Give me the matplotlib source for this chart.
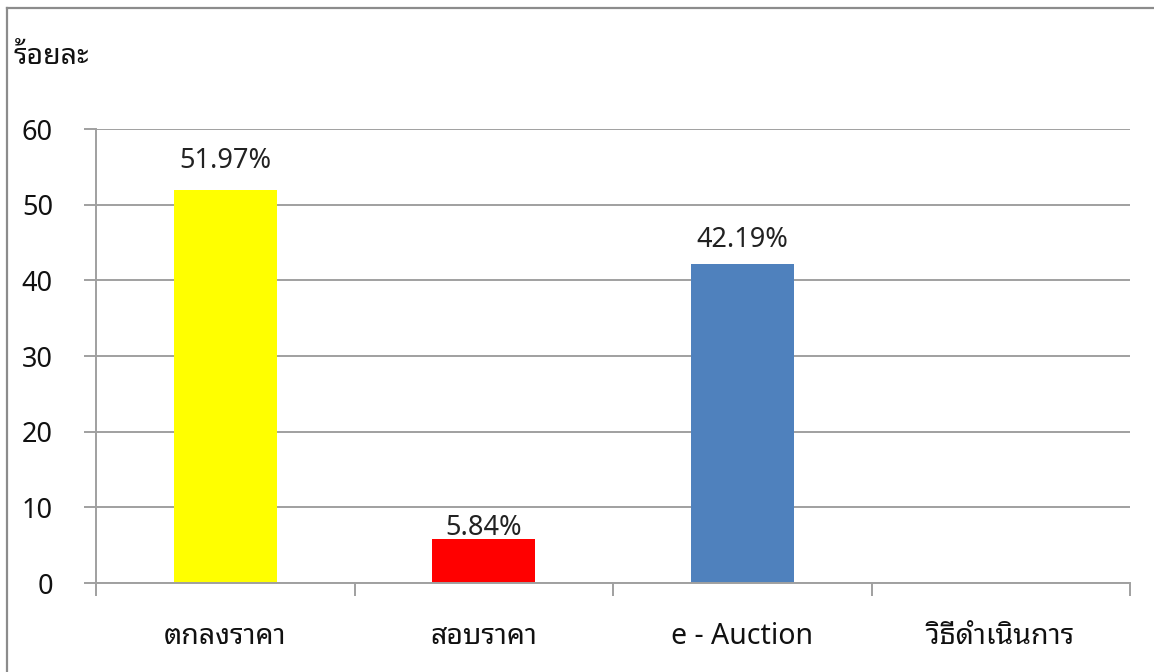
import numpy as np
import matplotlib
matplotlib.use("Agg")
import matplotlib.pyplot as plt
from matplotlib.lines import Line2D

plt.rcParams["font.family"] = ["Noto Sans Thai Looped", "Noto Sans", "DejaVu Sans"]

categories = ["ตกลงราคา", "สอบราคา", "e - Auction", "วิธีดำเนินการ"]
percent = [51.97, 5.84, 42.19, np.nan]
bar_colors = ["#ffff00", "#ff0000", "#4f81bd", "#ffffff"]
label_offset_pt = [21, 8, 17, 0]
y_ticks = [0, 10, 20, 30, 40, 50, 60]
y_title = "ร้อยละ"

GRID = "#a0a0a0"
FS = 19.5

fig = plt.figure(figsize=(11.54, 6.72), dpi=100)
ax = fig.add_axes([0.0832, 0.1324, 0.8960, 0.6756])

x = np.arange(len(categories))
heights = np.nan_to_num(percent)
ax.bar(x, heights, width=0.4, color=bar_colors, zorder=3)

for xi, v, off in zip(x, percent, label_offset_pt):
    if np.isnan(v):
        continue
    ax.annotate(f"{v:.2f}%", (xi, v), xytext=(0, off), textcoords="offset points",
                ha="center", va="center", fontsize=FS, color="#222222", zorder=4)

ax.set_xlim(-0.5, len(categories) - 0.5)
ax.set_ylim(0, 60)
ax.set_yticks(y_ticks)
ax.yaxis.grid(True, color=GRID, lw=1.4, zorder=0)
ax.tick_params(axis="y", length=9, width=1.4, color=GRID, pad=22, labelsize=FS,
               labelcolor="#111111")

# category boundaries as ticks, names centred between them
ax.set_xticks(np.arange(len(categories) + 1) - 0.5)
ax.set_xticklabels([])
ax.set_xticks(x, minor=True)
ax.set_xticklabels(categories, minor=True, fontsize=FS + 1, color="#111111")
ax.tick_params(axis="x", which="major", length=9, width=1.4, color=GRID)
ax.tick_params(axis="x", which="minor", length=0, pad=28)

for side in ("top", "right"):
    ax.spines[side].set_visible(False)
for side in ("left", "bottom"):
    ax.spines[side].set_color(GRID)
    ax.spines[side].set_linewidth(1.4)
    ax.spines[side].set_zorder(5)

fig.text(14 / 1154, 1 - 57 / 672, y_title, fontsize=FS + 1, ha="left", va="center",
         color="#111111")

# outer chart frame (only left and top edges fall inside the picture)
fig.add_artist(Line2D([7 / 1154, 7 / 1154], [0, 1 - 8 / 672], transform=fig.transFigure,
                      color="#8c8c8c", lw=1.6))
fig.add_artist(Line2D([7 / 1154, 1], [1 - 8 / 672, 1 - 8 / 672], transform=fig.transFigure,
                      color="#8c8c8c", lw=1.6))

fig.savefig("out.png", dpi=100)
